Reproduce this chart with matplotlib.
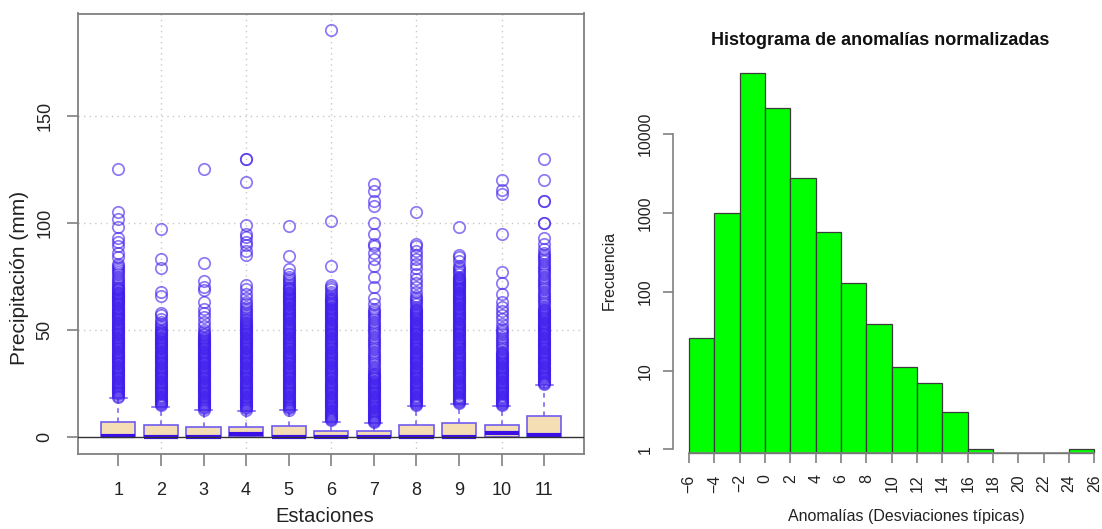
import matplotlib
matplotlib.use("Agg")
import matplotlib.pyplot as plt
import numpy as np

plt.rcParams['font.family'] = ['Liberation Sans', 'DejaVu Sans']

# ---- daily precipitation per station (mm) ----
estaciones = [1, 2, 3, 4, 5, 6, 7, 8, 9, 10, 11]
q1 = [0, 0, 0, 0, 0, 0, 0, 0, 0, 0, 0]
mediana = [0.8, 0, 0, 1.4, 0, 0, 0, 0, 0, 1.9, 1.1]
q3 = [7.1, 5.6, 4.8, 4.8, 5.1, 2.8, 2.8, 5.9, 6.7, 5.9, 9.9]
bigote_sup = [18.4, 14.2, 12.6, 12.1, 12.9, 7.1, 6.7, 14.8, 15.4, 14.8, 24.6]

# values above the upper whisker (readings every 0.5 mm where the record is dense)
out_1 = [125, 105, 102, 98, 93, 91, 89, 86, 84, 81, 80, 79, 78, 77, 76, 75, 74, 73, 72, 71,
         19, 19.5, 20, 20.5, 21, 21.5, 22, 22.5, 23, 23.5, 24, 24.5, 25, 25.5, 26, 26.5, 27, 27.5,
         28, 28.5, 29, 29.5, 30, 30.5, 31, 31.5, 32, 32.5, 33, 33.5, 34, 34.5, 35, 35.5, 36, 36.5,
         37, 37.5, 38, 38.5, 39, 39.5, 40, 40.5, 41, 41.5, 42, 42.5, 43, 43.5, 44, 44.5, 45, 45.5,
         46, 46.5, 47, 47.5, 48, 48.5, 49, 49.5, 50, 50.5, 51, 51.5, 52, 52.5, 53, 53.5, 54, 54.5,
         55, 55.5, 56, 56.5, 57, 57.5, 58, 58.5, 59, 59.5, 60, 60.5, 61, 61.5, 62, 62.5, 63, 63.5,
         64, 64.5, 65, 65.5, 66, 66.5, 67, 67.5, 68, 68.5, 69, 69.5, 70]
out_2 = [97, 83, 79, 68, 66, 58, 57, 55, 54, 53, 52, 51,
         15, 15.5, 16, 16.5, 17, 17.5, 18, 18.5, 19, 19.5, 20, 20.5, 21, 21.5, 22, 22.5, 23, 23.5,
         24, 24.5, 25, 25.5, 26, 26.5, 27, 27.5, 28, 28.5, 29, 29.5, 30, 30.5, 31, 31.5, 32, 32.5,
         33, 33.5, 34, 34.5, 35, 35.5, 36, 36.5, 37, 37.5, 38, 38.5, 39, 39.5, 40, 40.5, 41, 41.5,
         42, 42.5, 43, 43.5, 44, 44.5, 45, 45.5, 46, 46.5, 47, 47.5, 48, 48.5, 49, 49.5, 50]
out_3 = [125, 81.5, 73, 70, 68.5, 63, 60, 58, 56, 54, 52, 50, 49,
         13, 13.5, 14, 14.5, 15, 15.5, 16, 16.5, 17, 17.5, 18, 18.5, 19, 19.5, 20, 20.5, 21, 21.5,
         22, 22.5, 23, 23.5, 24, 24.5, 25, 25.5, 26, 26.5, 27, 27.5, 28, 28.5, 29, 29.5, 30, 30.5,
         31, 31.5, 32, 32.5, 33, 33.5, 34, 34.5, 35, 35.5, 36, 36.5, 37, 37.5, 38, 38.5, 39, 39.5,
         40, 40.5, 41, 41.5, 42, 42.5, 43, 43.5, 44, 44.5, 45, 45.5, 46, 46.5, 47, 47.5, 48]
out_4 = [130, 130, 119, 99, 95, 93.5, 91, 89.5, 87, 85, 71, 69, 67, 65,
         63, 62, 61, 60, 59, 58, 57, 56,
         13, 13.5, 14, 14.5, 15, 15.5, 16, 16.5, 17, 17.5, 18, 18.5, 19, 19.5, 20, 20.5, 21, 21.5,
         22, 22.5, 23, 23.5, 24, 24.5, 25, 25.5, 26, 26.5, 27, 27.5, 28, 28.5, 29, 29.5, 30, 30.5,
         31, 31.5, 32, 32.5, 33, 33.5, 34, 34.5, 35, 35.5, 36, 36.5, 37, 37.5, 38, 38.5, 39, 39.5,
         40, 40.5, 41, 41.5, 42, 42.5, 43, 43.5, 44, 44.5, 45, 45.5, 46, 46.5, 47, 47.5, 48, 48.5,
         49, 49.5, 50, 50.5, 51, 51.5, 52, 52.5, 53, 53.5, 54, 54.5, 55]
out_5 = [98.5, 84.5, 78.7, 76, 75, 74, 73, 72, 71,
         13, 13.5, 14, 14.5, 15, 15.5, 16, 16.5, 17, 17.5, 18, 18.5, 19, 19.5, 20, 20.5, 21, 21.5,
         22, 22.5, 23, 23.5, 24, 24.5, 25, 25.5, 26, 26.5, 27, 27.5, 28, 28.5, 29, 29.5, 30, 30.5,
         31, 31.5, 32, 32.5, 33, 33.5, 34, 34.5, 35, 35.5, 36, 36.5, 37, 37.5, 38, 38.5, 39, 39.5,
         40, 40.5, 41, 41.5, 42, 42.5, 43, 43.5, 44, 44.5, 45, 45.5, 46, 46.5, 47, 47.5, 48, 48.5,
         49, 49.5, 50, 50.5, 51, 51.5, 52, 52.5, 53, 53.5, 54, 54.5, 55, 55.5, 56, 56.5, 57, 57.5,
         58, 58.5, 59, 59.5, 60, 60.5, 61, 61.5, 62, 62.5, 63, 63.5, 64, 64.5, 65, 65.5, 66, 66.5,
         67, 67.5, 68, 68.5, 69, 69.5, 70]
out_6 = [190, 101, 80, 71, 70, 69, 68, 67, 66,
         8, 8.5, 9, 9.5, 10, 10.5, 11, 11.5, 12, 12.5, 13, 13.5, 14, 14.5, 15, 15.5, 16, 16.5, 17,
         17.5, 18, 18.5, 19, 19.5, 20, 20.5, 21, 21.5, 22, 22.5, 23, 23.5, 24, 24.5, 25, 25.5, 26,
         26.5, 27, 27.5, 28, 28.5, 29, 29.5, 30, 30.5, 31, 31.5, 32, 32.5, 33, 33.5, 34, 34.5, 35,
         35.5, 36, 36.5, 37, 37.5, 38, 38.5, 39, 39.5, 40, 40.5, 41, 41.5, 42, 42.5, 43, 43.5, 44,
         44.5, 45, 45.5, 46, 46.5, 47, 47.5, 48, 48.5, 49, 49.5, 50, 50.5, 51, 51.5, 52, 52.5, 53,
         53.5, 54, 54.5, 55, 55.5, 56, 56.5, 57, 57.5, 58, 58.5, 59, 59.5, 60, 60.5, 61, 61.5, 62,
         62.5, 63, 63.5, 64, 64.5, 65]
out_7 = [118, 115, 110, 108, 100, 95, 90, 89, 86, 83, 80, 75, 70, 65, 62,
         60, 59, 58, 57, 56, 55, 54, 53, 52, 51, 50, 49, 48, 47, 46, 45, 44, 43, 42, 41, 40, 39,
         38, 37, 36, 35, 34, 33, 32, 31,
         7, 7.5, 8, 8.5, 9, 9.5, 10, 10.5, 11, 11.5, 12, 12.5, 13, 13.5, 14, 14.5, 15, 15.5, 16,
         16.5, 17, 17.5, 18, 18.5, 19, 19.5, 20, 20.5, 21, 21.5, 22, 22.5, 23, 23.5, 24, 24.5, 25,
         25.5, 26, 26.5, 27, 27.5, 28, 28.5, 29, 29.5, 30]
out_8 = [105, 90, 89, 87, 85, 83, 81, 79, 76, 74, 72, 70, 68, 66, 65, 64, 63, 62, 61,
         15, 15.5, 16, 16.5, 17, 17.5, 18, 18.5, 19, 19.5, 20, 20.5, 21, 21.5, 22, 22.5, 23, 23.5,
         24, 24.5, 25, 25.5, 26, 26.5, 27, 27.5, 28, 28.5, 29, 29.5, 30, 30.5, 31, 31.5, 32, 32.5,
         33, 33.5, 34, 34.5, 35, 35.5, 36, 36.5, 37, 37.5, 38, 38.5, 39, 39.5, 40, 40.5, 41, 41.5,
         42, 42.5, 43, 43.5, 44, 44.5, 45, 45.5, 46, 46.5, 47, 47.5, 48, 48.5, 49, 49.5, 50, 50.5,
         51, 51.5, 52, 52.5, 53, 53.5, 54, 54.5, 55, 55.5, 56, 56.5, 57, 57.5, 58, 58.5, 59, 59.5,
         60]
out_9 = [98, 85, 84, 82, 80, 79, 78, 77, 76,
         16, 16.5, 17, 17.5, 18, 18.5, 19, 19.5, 20, 20.5, 21, 21.5, 22, 22.5, 23, 23.5, 24, 24.5,
         25, 25.5, 26, 26.5, 27, 27.5, 28, 28.5, 29, 29.5, 30, 30.5, 31, 31.5, 32, 32.5, 33, 33.5,
         34, 34.5, 35, 35.5, 36, 36.5, 37, 37.5, 38, 38.5, 39, 39.5, 40, 40.5, 41, 41.5, 42, 42.5,
         43, 43.5, 44, 44.5, 45, 45.5, 46, 46.5, 47, 47.5, 48, 48.5, 49, 49.5, 50, 50.5, 51, 51.5,
         52, 52.5, 53, 53.5, 54, 54.5, 55, 55.5, 56, 56.5, 57, 57.5, 58, 58.5, 59, 59.5, 60, 60.5,
         61, 61.5, 62, 62.5, 63, 63.5, 64, 64.5, 65, 65.5, 66, 66.5, 67, 67.5, 68, 68.5, 69, 69.5,
         70, 70.5, 71, 71.5, 72, 72.5, 73, 73.5, 74, 74.5, 75]
out_10 = [120, 115.5, 113.5, 95, 77, 72, 67, 63, 61, 59, 57, 55, 53, 51,
          50, 49, 48, 47, 46, 45, 44, 43, 42, 41,
          15, 15.5, 16, 16.5, 17, 17.5, 18, 18.5, 19, 19.5, 20, 20.5, 21, 21.5, 22, 22.5, 23, 23.5,
          24, 24.5, 25, 25.5, 26, 26.5, 27, 27.5, 28, 28.5, 29, 29.5, 30, 30.5, 31, 31.5, 32, 32.5,
          33, 33.5, 34, 34.5, 35, 35.5, 36, 36.5, 37, 37.5, 38, 38.5, 39, 39.5, 40]
out_11 = [130, 120, 110, 110, 100, 100, 93, 90, 88, 86,
          85, 84, 83, 82, 81, 80, 79, 78, 77, 76, 75, 74, 73, 72, 71, 70, 69, 68, 67, 66, 65, 64,
          63, 62, 61,
          25, 25.5, 26, 26.5, 27, 27.5, 28, 28.5, 29, 29.5, 30, 30.5, 31, 31.5, 32, 32.5, 33, 33.5,
          34, 34.5, 35, 35.5, 36, 36.5, 37, 37.5, 38, 38.5, 39, 39.5, 40, 40.5, 41, 41.5, 42, 42.5,
          43, 43.5, 44, 44.5, 45, 45.5, 46, 46.5, 47, 47.5, 48, 48.5, 49, 49.5, 50, 50.5, 51, 51.5,
          52, 52.5, 53, 53.5, 54, 54.5, 55, 55.5, 56, 56.5, 57, 57.5, 58, 58.5, 59, 59.5, 60]
atipicos = [out_1, out_2, out_3, out_4, out_5, out_6, out_7, out_8, out_9, out_10, out_11]

# ---- histogram of normalised anomalies ----
bordes = [-6, -4, -2, 0, 2, 4, 6, 8, 10, 12, 14, 16, 18, 20, 22, 24, 26]
frecuencias = [26, 990, 60000, 21200, 2800, 565, 129, 39, 11, 7, 3, 1, 0, 0, 0, 1]

fig = plt.figure(figsize=(11.02, 5.29), dpi=100)
W, H = 1102.0, 529.0

gris = '#808080'
txt = '#222222'

# ------------------------- boxplot -------------------------
ax1 = fig.add_axes([78.3 / W, (H - 453.7) / H, (584.3 - 78.3) / W, (453.7 - 13.5) / H])
ax1.set_xlim(0.06, 11.94)
ax1.set_ylim(-7.6, 197.6)

for xg in [2, 4, 6, 8, 10]:
    ax1.axvline(xg, color='#c8c8c8', lw=1.0, ls=(0, (1, 3)), zorder=0)
for yg in [50, 100, 150]:
    ax1.axhline(yg, color='#c8c8c8', lw=1.0, ls=(0, (1, 3)), zorder=0)

stats = []
for i in range(len(estaciones)):
    stats.append(dict(med=mediana[i], q1=q1[i], q3=q3[i], whislo=q1[i],
                      whishi=bigote_sup[i], fliers=atipicos[i]))

borde = '#6f5cf0'
ax1.bxp(stats, positions=estaciones, widths=0.8, capwidths=0.4, patch_artist=True,
        boxprops=dict(facecolor='#f5deb3', edgecolor=borde, lw=1.2),
        medianprops=dict(color='#3a10e6', lw=3.0, solid_capstyle='butt'),
        whiskerprops=dict(color=borde, lw=1.1, ls=(0, (3, 3))),
        capprops=dict(color=borde, lw=1.1),
        flierprops=dict(marker='o', markersize=8.2, markerfacecolor='none',
                        markeredgecolor=(0.25, 0.12, 0.93, 0.6), markeredgewidth=1.25))
ax1.axhline(0, color='#333333', lw=1.0, zorder=5)

for s in ax1.spines.values():
    s.set_color(gris)
    s.set_linewidth(1.3)
ax1.set_xticks(estaciones)
ax1.set_xticklabels([str(e) for e in estaciones])
ax1.set_yticks([0, 50, 100, 150])
ax1.set_yticklabels(['0', '50', '100', '150'], rotation=90, va='center')
ax1.tick_params(axis='x', length=8.5, width=1.2, color=gris, pad=12, labelsize=13, labelcolor=txt)
ax1.tick_params(axis='y', length=8, width=1.2, color=gris, pad=10, labelsize=13, labelcolor=txt)
fig.text(325 / W, 1 - 516 / H, 'Estaciones', ha='center', va='center', fontsize=14.5, color=txt)
fig.text(20 / W, 1 - 278 / H, 'Precipitación (mm)', ha='center', va='center', rotation=90,
         fontsize=15, color=txt)

# ------------------------- histogram -------------------------
base = 0.89
ax2 = fig.add_axes([672.7 / W, (H - 456) / H, (W - 672.7) / W, (456 - 60) / H])
ax2.set_yscale('log')
ax2.set_xlim(-7.3, 26.6)
ax2.set_ylim(0.827, 87000)
alturas = [max(f - base, 0) for f in frecuencias]
ax2.bar(bordes[:-1], alturas, width=2, align='edge', bottom=base,
        color='#00ff00', edgecolor='#3c3c3c', linewidth=0.9)

for k in ['top', 'right']:
    ax2.spines[k].set_visible(False)
ax2.spines['left'].set_bounds(1, 10000)
ax2.spines['left'].set_color(gris)
ax2.spines['left'].set_linewidth(1.2)
ax2.spines['bottom'].set_position(('data', base))
ax2.spines['bottom'].set_bounds(-6, 26)
ax2.spines['bottom'].set_color(gris)
ax2.spines['bottom'].set_linewidth(1.2)
ax2.minorticks_off()
ax2.set_yticks([1, 10, 100, 1000, 10000])
ax2.set_yticklabels(['1', '10', '100', '1000', '10000'], rotation=90, va='center')
ax2.set_xticks(bordes)
ax2.set_xticklabels([str(b).replace('-', '\u2212') for b in bordes], rotation=90)
ax2.tick_params(axis='x', length=7, width=1.2, color=gris, pad=8, labelsize=11.5, labelcolor=txt)
ax2.tick_params(axis='y', length=7.5, width=1.2, color=gris, pad=7, labelsize=11.5, labelcolor=txt)
ax2.patch.set_alpha(0)

fig.text(880 / W, 1 - 40 / H, 'Histograma de anomalías normalizadas', ha='center', va='center',
         fontsize=13, fontweight='bold', color='#111111')
fig.text(906 / W, 1 - 517 / H, 'Anomalías (Desviaciones típicas)', ha='center', va='center',
         fontsize=11.5, color=txt)
fig.text(609 / W, 1 - 270 / H, 'Frecuencia', ha='center', va='center', rotation=90,
         fontsize=11.5, color=txt)

fig.savefig('out.png', dpi=100)
